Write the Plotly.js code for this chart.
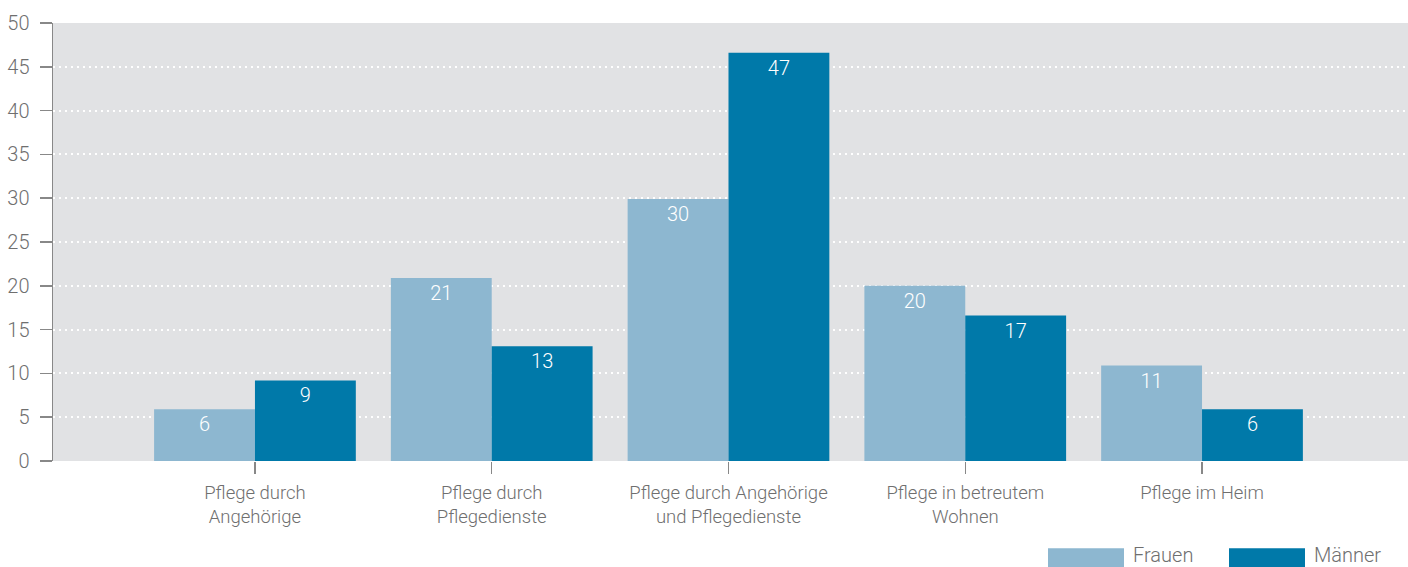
<!DOCTYPE html>
<html>
<head>
<meta charset="utf-8">
<script src="https://cdn.plot.ly/plotly-3.0.1.min.js"></script>
<style>html,body{margin:0;padding:0;background:#fff;}#chart{width:1408px;height:567px;}</style>
</head>
<body>
<div id="chart"></div>
<script>
var categories = ["Pflege durch<br>Angehörige", "Pflege durch<br>Pflegedienste", "Pflege durch Angehörige<br>und Pflegedienste", "Pflege in betreutem<br>Wohnen", "Pflege im Heim"];
var frauenValues = [5.9, 20.9, 29.9, 20.0, 10.9];
var maennerValues = [9.2, 13.1, 46.6, 16.6, 5.9];
var frauenLabels = ["6", "21", "30", "20", "11"];
var maennerLabels = ["9", "13", "47", "17", "6"];
var seriesNames = ["Frauen", "Männer"];
var yTicks = [0, 5, 10, 15, 20, 25, 30, 35, 40, 45, 50];

var FONT = "Roboto, sans-serif";
var colF = "#8db7d0", colM = "#0079a9";
var TXT = "#6f6f6f";

var traces = [
  {type: "bar", name: seriesNames[0], x: categories, y: frauenValues, text: frauenLabels,
   textposition: "inside", insidetextanchor: "end", textangle: 0,
   textfont: {color: "#ffffff", size: 20, family: FONT, weight: 300},
   marker: {color: colF}, hoverinfo: "skip", showlegend: false, cliponaxis: false},
  {type: "bar", name: seriesNames[1], x: categories, y: maennerValues, text: maennerLabels,
   textposition: "inside", insidetextanchor: "end", textangle: 0,
   textfont: {color: "#ffffff", size: 20, family: FONT, weight: 300},
   marker: {color: colM}, hoverinfo: "skip", showlegend: false, cliponaxis: false}
];

var layout = {
  width: 1408, height: 567,
  margin: {l: 53, r: 0, t: 23, b: 106, pad: 0},
  paper_bgcolor: "#ffffff", plot_bgcolor: "#e1e2e4",
  barmode: "group", bargap: 0.148, bargroupgap: 0,
  font: {family: FONT, color: TXT, size: 18, weight: 300},
  xaxis: {type: "category", range: [-0.853, 4.87], showgrid: false, zeroline: false,
          showline: false, ticks: "outside", ticklen: 12, tickwidth: 1.5, tickcolor: "#888888",
          ticklabelstandoff: 3,
          tickfont: {size: 18.5, color: TXT, family: FONT, weight: 300}, fixedrange: true},
  yaxis: {range: [0, 50], tickvals: yTicks, showgrid: true, gridcolor: "#ffffff", gridwidth: 2,
          griddash: "2px,4px", zeroline: false, showline: true, linecolor: "#888888", linewidth: 1.5,
          ticks: "outside", ticklen: 12, tickwidth: 1.5, tickcolor: "#888888",
          tickfont: {size: 20, color: TXT, family: FONT, weight: 300}, ticklabelstandoff: 6, fixedrange: true},
  shapes: [
    {type: "rect", xref: "paper", yref: "paper", x0: (1048-53)/1355, x1: (1124-53)/1355, y0: -0.26, y1: -0.199, fillcolor: colF, line: {width: 0}},
    {type: "rect", xref: "paper", yref: "paper", x0: (1229-53)/1355, x1: (1305-53)/1355, y0: -0.26, y1: -0.199, fillcolor: colM, line: {width: 0}}
  ],
  annotations: [
    {xref: "paper", yref: "paper", x: (1131-53)/1355, y: -0.214, xanchor: "left", yanchor: "middle", showarrow: false, text: seriesNames[0], font: {size: 20, color: TXT, family: FONT, weight: 300}},
    {xref: "paper", yref: "paper", x: (1312-53)/1355, y: -0.214, xanchor: "left", yanchor: "middle", showarrow: false, text: seriesNames[1], font: {size: 20, color: TXT, family: FONT, weight: 300}}
  ]
};

Plotly.newPlot("chart", traces, layout, {displayModeBar: false, staticPlot: true});
</script>
</body>
</html>
